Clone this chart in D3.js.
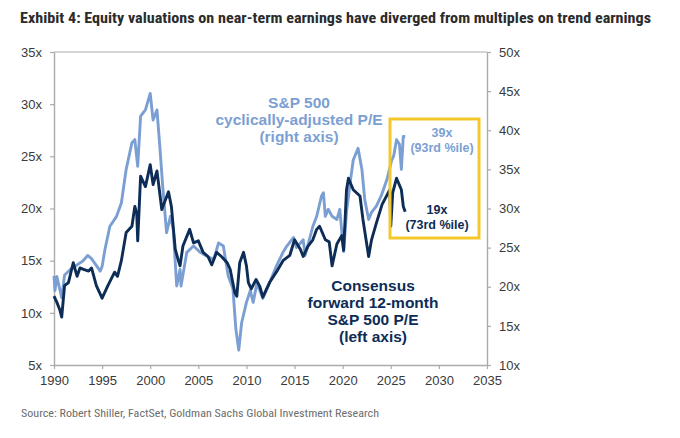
<!DOCTYPE html>
<html>
<head>
<meta charset="utf-8">
<script src="https://cdn.jsdelivr.net/npm/d3@7"></script>
<style>
  body { margin: 0; background: #fff; }
  svg text { font-family: "Liberation Sans", Arial, sans-serif; }
</style>
</head>
<body>
<div id="chart"></div>
<script>
// forward 12m P/E (left axis)
const fwdYears = [1990.0,1990.3,1990.6,1990.8,1991.1,1991.5,1992.0,1992.4,1992.7,1993.0,1993.6,1993.9,1994.4,1995.0,1995.6,1996.3,1996.6,1997.0,1997.5,1998.1,1998.4,1998.6,1998.7,1999.0,1999.5,2000.0,2000.3,2000.7,2001.0,2001.2,2001.9,2002.2,2002.6,2002.9,2003.1,2003.4,2004.1,2004.5,2005.0,2005.5,2006.0,2006.4,2006.9,2007.4,2008.0,2008.3,2008.8,2009.0,2009.3,2009.7,2010.0,2010.2,2010.5,2011.0,2011.4,2011.7,2012.4,2013.1,2013.8,2014.5,2015.0,2015.6,2015.9,2016.4,2016.9,2017.3,2017.6,2018.2,2018.6,2018.9,2019.4,2019.9,2020.1,2020.4,2020.6,2021.1,2021.8,2022.1,2022.7,2023.0,2023.5,2024.1,2024.9,2025.0,2025.2,2025.6,2026.1,2026.3,2026.5];
const fwdPE = [11.6,11.0,10.3,9.6,12.6,12.9,14.8,13.5,14.3,14.2,14.0,14.3,12.6,11.4,12.6,13.9,13.5,15.0,17.7,18.3,20.2,19.5,16.9,23.1,22.1,24.2,22.3,23.6,21.4,19.9,21.6,20.2,16.1,15.1,14.5,16.4,18.0,16.7,16.9,15.8,15.4,14.6,15.8,15.4,14.8,14.2,11.9,11.6,14.8,15.8,14.5,12.9,12.3,13.2,12.5,11.5,12.9,13.9,15.0,15.5,17.0,16.1,15.4,16.4,17.0,18.0,18.3,17.0,16.8,14.5,16.6,17.4,16.0,21.8,22.9,21.8,21.2,19.0,15.4,17.0,18.6,20.4,21.8,18.3,21.5,22.9,21.8,20.2,19.7];

// Shiller CAPE (right axis)
const capeYears = [1990.0,1990.1,1990.3,1990.8,1991.1,1991.7,1992.4,1993.0,1993.5,1993.9,1994.3,1994.8,1995.0,1995.3,1995.8,1996.5,1997.0,1997.5,1998.1,1998.4,1998.7,1999.0,1999.5,2000.0,2000.3,2000.7,2001.0,2001.3,2001.7,2002.1,2002.4,2002.75,2003.1,2003.2,2003.8,2004.5,2005.2,2005.9,2006.6,2007.1,2007.6,2008.1,2008.6,2008.9,2009.2,2009.5,2010.0,2010.4,2010.7,2011.1,2011.7,2012.4,2013.1,2013.8,2014.2,2014.9,2015.2,2015.9,2016.1,2016.9,2017.3,2017.8,2018.0,2018.2,2018.5,2018.9,2019.4,2019.7,2020.1,2020.4,2020.8,2021.1,2021.6,2022.0,2022.3,2022.7,2023.0,2023.5,2024.0,2024.6,2025.1,2025.3,2025.6,2025.9,2026.1,2026.3,2026.5];
const capePE = [21.4,19.5,21.3,18.6,21.5,22.2,22.8,23.3,24.0,23.6,22.9,22.0,22.6,24.8,27.7,29.0,30.7,35.0,38.4,38.8,35.4,41.8,42.6,44.7,41.3,42.6,37.9,32.8,26.9,29.0,27.3,20.1,22.2,20.1,24.4,25.2,24.4,23.9,23.5,25.6,25.2,21.4,19.7,14.6,11.9,15.4,18.0,19.5,18.0,20.5,18.5,20.5,22.6,24.4,25.2,26.3,25.0,26.0,24.0,27.7,29.0,31.6,32.0,29.0,29.9,29.0,28.6,29.9,24.5,29.5,33.5,36.2,37.7,35.0,31.1,28.6,29.5,30.3,31.6,33.7,36.2,36.7,38.8,38.2,35.0,39.2,39.2];

const xTicks = [1990,1995,2000,2005,2010,2015,2020,2025,2030,2035];
const leftTicks = [5,10,15,20,25,30,35];
const rightTicks = [10,15,20,25,30,35,40,45,50];

const W = 680, H = 438;
const m = {left: 54, right: 193, top: 52, bottom: 73};

const svg = d3.select('#chart').append('svg').attr('width', W).attr('height', H);

const x = d3.scaleLinear().domain([1990, 2035]).range([m.left, W - m.right]);
const yL = d3.scaleLinear().domain([5, 35]).range([H - m.bottom, m.top]);
const yR = d3.scaleLinear().domain([10, 50]).range([H - m.bottom, m.top]);

const gridCol = '#ababab';
const labCol = '#3a3a3a';
const darkCol = '#0d2c56';
const lightCol = '#7c9fd3';

// frame top + right
svg.append('line').attr('x1', x(1990)).attr('x2', x(2035)).attr('y1', yL(35)).attr('y2', yL(35))
   .attr('stroke', gridCol).attr('stroke-width', 1.2);

function styleAxis(g) {
    g.select('.domain').attr('stroke', gridCol).attr('stroke-width', 1.4);
    g.selectAll('.tick line').attr('stroke', gridCol).attr('stroke-width', 1.2);
    g.selectAll('text').attr('fill', labCol).style('font-size', '13px')
     .style('font-family', '"Liberation Sans", Arial, sans-serif');
}

svg.append('g').attr('transform', `translate(0,${H - m.bottom})`)
   .call(d3.axisBottom(x).tickValues(xTicks).tickFormat(d3.format('d')).tickSize(4).tickSizeOuter(0).tickPadding(7))
   .call(styleAxis);

svg.append('g').attr('transform', `translate(${m.left},0)`)
   .call(d3.axisLeft(yL).tickValues(leftTicks).tickFormat(d => d + 'x').tickSize(4).tickSizeOuter(0).tickPadding(8))
   .call(styleAxis);

svg.append('g').attr('transform', `translate(${W - m.right},0)`)
   .call(d3.axisRight(yR).tickValues(rightTicks).tickFormat(d => d + 'x').tickSize(4).tickSizeOuter(0).tickPadding(8))
   .call(styleAxis);

const capeLine = d3.line().x((d, i) => x(capeYears[i])).y(d => yR(d));
const fwdLine = d3.line().x((d, i) => x(fwdYears[i])).y(d => yL(d));

svg.append('path').datum(capePE).attr('d', capeLine)
   .attr('fill', 'none').attr('stroke', lightCol).attr('stroke-width', 2.9).attr('stroke-linejoin', 'round');
svg.append('path').datum(fwdPE).attr('d', fwdLine)
   .attr('fill', 'none').attr('stroke', darkCol).attr('stroke-width', 2.9).attr('stroke-linejoin', 'round');

// highlight box round the latest readings
svg.append('rect').attr('x', 390).attr('y', 119).attr('width', 89).attr('height', 119)
   .attr('fill', 'none').attr('stroke', '#f4c82a').attr('stroke-width', 3);

function label(lines, cx, y0, dy, size, col) {
    const t = svg.append('text').attr('text-anchor', 'middle').attr('fill', col)
        .style('font-size', size + 'px').style('font-weight', 'bold');
    lines.forEach((s, i) => t.append('tspan').attr('x', cx).attr('y', y0 + i * dy).text(s));
}

label(['S&P 500', 'cyclically-adjusted P/E', '(right axis)'], 299, 108, 17, 15.5, lightCol);
label(['Consensus', 'forward 12-month', 'S&P 500 P/E', '(left axis)'], 373, 291, 17, 15.5, darkCol);
label(['39x', '(93rd %ile)'], 442, 137, 15, 12.5, lightCol);
label(['19x', '(73rd %ile)'], 437, 214, 15, 12.5, darkCol);

// title + source
svg.append('text').attr('x', 20).attr('y', 23)
   .attr('textLength', 631).attr('lengthAdjust', 'spacingAndGlyphs')
   .style('font-family', '"Liberation Sans Narrow", "Roboto Condensed", Lato, sans-serif')
   .style('font-size', '15.5px').style('font-weight', 'bold').attr('fill', '#2b2b2b')
   .text('Exhibit 4: Equity valuations on near-term earnings have diverged from multiples on trend earnings');

svg.append('text').attr('x', 21).attr('y', 417)
   .attr('textLength', 358).attr('lengthAdjust', 'spacingAndGlyphs')
   .style('font-family', '"Liberation Sans Narrow", "Roboto Condensed", Lato, sans-serif')
   .style('font-size', '11.5px').attr('fill', '#6d6d6d')
   .text('Source: Robert Shiller, FactSet, Goldman Sachs Global Investment Research');
</script>
</body>
</html>
